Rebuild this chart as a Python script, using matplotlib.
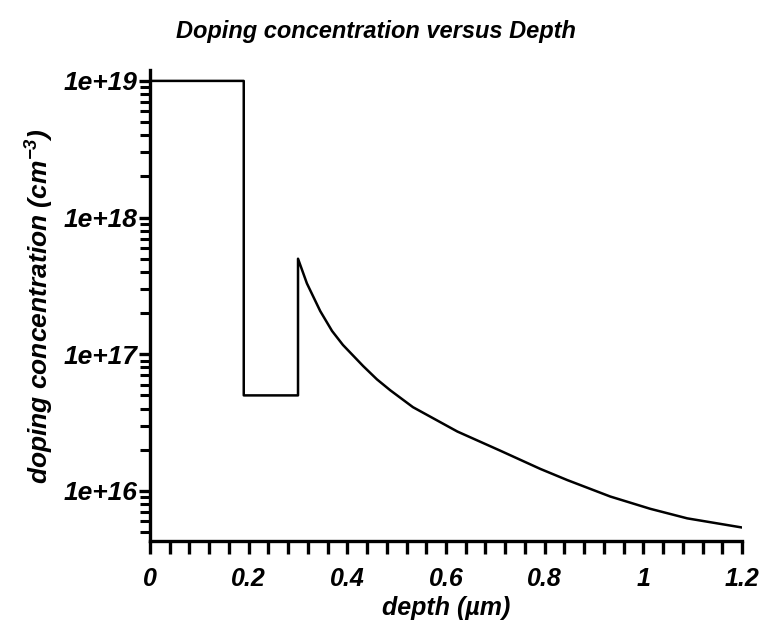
import matplotlib
matplotlib.use("Agg")
from matplotlib import pyplot as plt
from matplotlib.ticker import MultipleLocator, LogLocator, FixedLocator, NullFormatter
import numpy as np

plt.rcParams['font.family'] = ['Liberation Sans', 'DejaVu Sans']

# profile: depth in um, doping in cm^-3
depth = [0.0, 0.19, 0.19, 0.30, 0.30, 0.318, 0.345, 0.369, 0.391, 0.432, 0.460,
         0.487, 0.533, 0.623, 0.710, 0.791, 0.846, 0.933, 1.014, 1.089, 1.20]
doping = [1e19, 1e19, 5e16, 5e16, 5e17, 3.3e17, 2.07e17, 1.48e17, 1.17e17, 8.2e16, 6.55e16,
          5.45e16, 4.1e16, 2.72e16, 1.97e16, 1.45e16, 1.2e16, 9.1e15, 7.4e15, 6.3e15, 5.4e15]

x_ticks = [0, 0.2, 0.4, 0.6, 0.8, 1, 1.2]
x_labels = ['0', '0.2', '0.4', '0.6', '0.8', '1', '1.2']
y_ticks = [1e16, 1e17, 1e18, 1e19]
y_labels = ['1e+16', '1e+17', '1e+18', '1e+19']

fig = plt.figure(figsize=(7.67, 6.33), dpi=100)
ax = fig.add_axes([0.1956, 0.1453, 0.7718, 0.744])

ax.plot(depth, doping, color='black', linewidth=1.8)
ax.set_yscale('log')
ax.set_xlim(0, 1.2)
ax.set_ylim(4.3e15, 1.2e19)

ax.spines['top'].set_visible(False)
ax.spines['right'].set_visible(False)
ax.spines['left'].set_linewidth(2.4)
ax.spines['bottom'].set_linewidth(2.4)

ax.xaxis.set_major_locator(FixedLocator(x_ticks))
ax.set_xticklabels(x_labels)
ax.xaxis.set_minor_locator(MultipleLocator(0.04))
ax.yaxis.set_major_locator(FixedLocator(y_ticks))
ax.set_yticklabels(y_labels)
ax.yaxis.set_minor_locator(LogLocator(base=10, subs=np.arange(2, 10)))
ax.yaxis.set_minor_formatter(NullFormatter())

ax.tick_params(axis='x', which='both', direction='out', length=9, width=2.4, pad=10)
ax.tick_params(axis='y', which='major', direction='out', length=8, width=2.4, pad=1)
ax.tick_params(axis='y', which='minor', direction='out', length=7, width=2.2)

for lab in ax.get_xticklabels():
    lab.set_fontsize(18)
    lab.set_fontstyle('italic')
    lab.set_fontweight('bold')
for lab in ax.get_yticklabels():
    lab.set_fontsize(19)
    lab.set_fontstyle('italic')
    lab.set_fontweight('bold')

ax.set_xlabel('depth (\u00b5m)', fontsize=18, style='italic', weight='bold', labelpad=3)
ax.set_ylabel('doping concentration (cm$^{\\mathregular{-3}}$)', fontsize=19,
              style='italic', weight='bold', labelpad=6)
fig.text(0.49, 0.95, 'Doping concentration versus Depth', fontsize=17, style='italic',
         weight='bold', ha='center', va='center')

plt.savefig('out.png', dpi=100)
